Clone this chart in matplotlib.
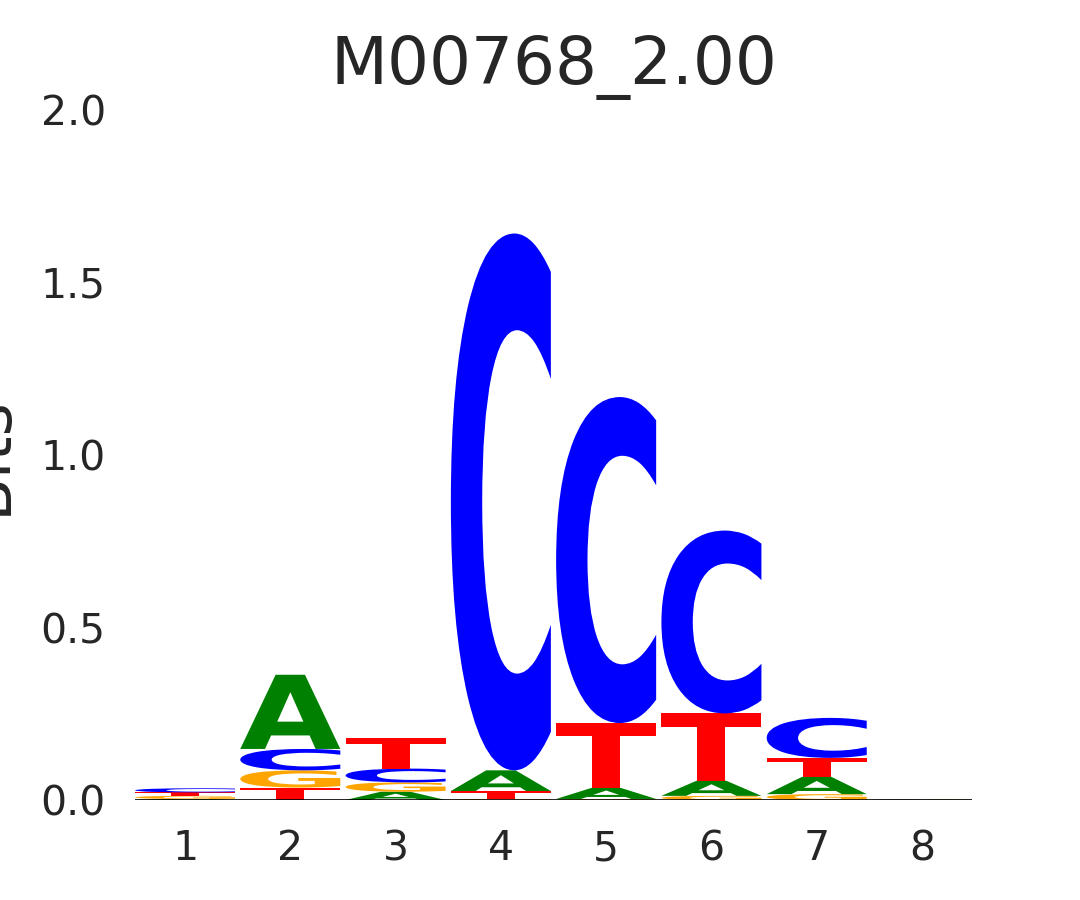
import matplotlib
matplotlib.use("Agg")
import matplotlib.pyplot as plt
from matplotlib.textpath import TextPath
from matplotlib.patches import PathPatch
from matplotlib.font_manager import FontProperties
from matplotlib.transforms import Affine2D

# information content (bits) per letter at each position
positions = [1, 2, 3, 4, 5, 6, 7, 8]
A = [0.003, 0.215, 0.024, 0.060, 0.032, 0.044, 0.050, 0.001]
C = [0.012, 0.062, 0.040, 1.556, 0.945, 0.530, 0.116, 0.001]
G = [0.009, 0.050, 0.027, 0.003, 0.003, 0.012, 0.017, 0.001]
T = [0.010, 0.036, 0.088, 0.023, 0.188, 0.195, 0.055, 0.001]
title = "M00768_2.00"
yticks = [0.0, 0.5, 1.0, 1.5, 2.0]

colors = {"A": "green", "C": "blue", "G": "orange", "T": "red"}
heights = {"A": A, "C": C, "G": G, "T": T}
width = 0.95
fp = FontProperties(family="DejaVu Sans", weight="bold")

plt.rcParams["text.color"] = ".15"
plt.rcParams["xtick.color"] = ".15"
plt.rcParams["ytick.color"] = ".15"
plt.rcParams["axes.labelcolor"] = ".15"

fig = plt.figure(figsize=(10.8, 9), dpi=100)
ax = fig.add_axes([135 / 1080, 100 / 900, (972 - 135) / 1080, 690 / 900])


def draw_letter(ch, x, y0, h):
    path = TextPath((0, 0), ch, size=1, prop=fp)
    ext = path.get_extents()
    tr = (Affine2D()
          .translate(-ext.x0, -ext.y0)
          .scale(width / ext.width, h / ext.height)
          .translate(x - width / 2, y0))
    ax.add_patch(PathPatch(tr.transform_path(path), facecolor=colors[ch],
                           edgecolor="none"))


for i, x in enumerate(positions):
    col = sorted(heights, key=lambda k: heights[k][i])
    y = 0.0
    for ch in col:
        h = heights[ch][i]
        draw_letter(ch, x, y, h)
        y += h

ax.axhline(0, color="black", lw=1.2)
ax.set_xlim(positions[0] - width / 2, positions[-1] + width / 2)
ax.set_ylim(0, 2.0)
ax.set_xticks(positions)
ax.set_yticks(yticks)
ax.set_yticklabels([f"{v:.1f}" for v in yticks])
ax.tick_params(axis="both", length=0, labelsize=29.5)
ax.tick_params(axis="y", pad=21)
ax.tick_params(axis="x", pad=21)
for s in ax.spines.values():
    s.set_visible(False)
ax.set_ylabel("Bits", fontsize=46, labelpad=16)
ax.set_title(title, fontsize=47.5, pad=19)

fig.savefig("out.png", dpi=100)
